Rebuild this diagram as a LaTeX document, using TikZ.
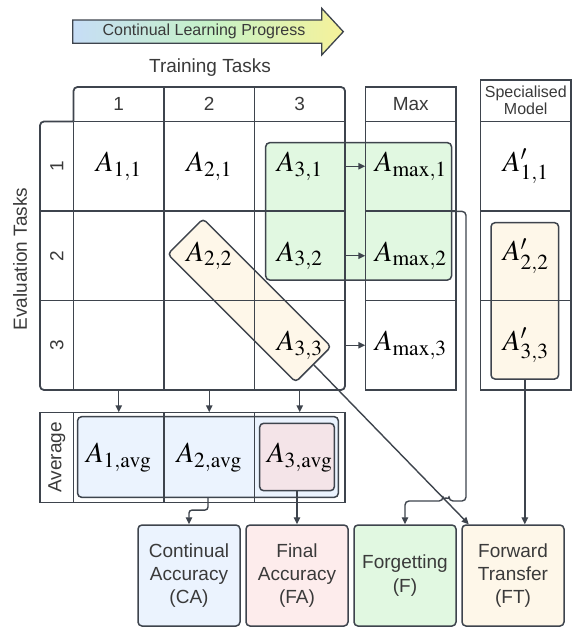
\documentclass[tikz,border=0pt]{standalone}
\usepackage{mathptmx}
\usepackage[no-math]{fontspec}
\setmainfont{Liberation Sans}
\usepackage{tikz}
\usetikzlibrary{arrows.meta}

\definecolor{linec}{HTML}{3E444D}
\definecolor{txtc}{HTML}{3A3A3A}
\definecolor{greenf}{HTML}{E1F8E1}
\definecolor{orangef}{HTML}{FEF7E9}
\definecolor{bluef}{HTML}{EBF3FE}
\definecolor{pinkf}{HTML}{FDECEC}
\definecolor{pinkd}{HTML}{F4E4E8}
\definecolor{progl}{HTML}{C6DDF6}
\definecolor{progm}{HTML}{C6F2C8}
\definecolor{progr}{HTML}{F6F29A}

\begin{document}
\begin{tikzpicture}[x=1pt, y=-1pt,
    >={Triangle[length=7pt,width=6.5pt]},
    grid/.style={draw=linec, line width=1.8pt},
    conn/.style={draw=linec, line width=1.4pt, ->},
    lbl/.style={text=txtc, font=\fontsize{19}{23}\selectfont},
    cell/.style={minimum width=90.5pt, minimum height=89.5pt, inner sep=0pt, font=\fontsize{29}{32}\selectfont},
    hbox/.style={draw=linec, line width=1.5pt, rounded corners=4pt, inner sep=0pt},
    metric/.style={hbox, minimum width=102pt, minimum height=101pt, align=center, text=txtc, font=\fontsize{19}{23.3}\selectfont}]
                    \useasboundingbox (0,0) rectangle (582,640);

                    % Progress arrow (shaded)
                    \path[draw=linec, line width=1.3pt, left color=progl, right color=progr, middle color=progm]
                        (72.7,20) -- (321.7,20) -- (321.7,8.3) -- (343.3,31.7)
                        -- (321.7,55) -- (321.7,43.3) -- (72.7,43.3) -- cycle;
                    \node[lbl, font=\fontsize{16}{18}\selectfont] (prog) at (204,31.7) {Continual Learning Progress};

                    % Highlight boxes (behind the grid)
                    \node[hbox, fill=greenf, minimum width=185.8pt, minimum height=137.3pt] (fgbox) at (358.6,211.35) {};
                    \node[hbox, fill=orangef, minimum width=181pt, minimum height=50pt, rotate=-45] (diag) at (249.4,300.4) {};
                    \node[hbox, fill=orangef, minimum width=67.6pt, minimum height=156.3pt] (sbox) at (524.8,300.85) {};
                    \node[hbox, fill=bluef, minimum width=260.7pt, minimum height=80.6pt] (cabox) at (207.95,457) {};
                    \node[hbox, fill=pinkd, minimum width=74.7pt, minimum height=67.4pt] (fabox) at (297,457) {};

                    % Training/evaluation table
                    \draw[grid, rounded corners=4pt] (73.5,121.5) -- (73.5,87) -- (345,87) -- (345,390)
                        -- (40,390) -- (40,121.5) -- (73.5,121.5);
                    \draw[grid] (73.5,121.5) -- (73.5,390);
                    \foreach \x in {164,254.5}
                        \draw[grid] (\x,87) -- (\x,390);
                    \draw[grid] (73.5,121.5) -- (345,121.5);
                    \foreach \y in {211,300.5}
                        \draw[grid] (40,\y) -- (345,\y);

                    % Max and specialised columns
                    \draw[grid] (365.5,87) rectangle (456,390);
                    \draw[grid] (480.5,80) rectangle (571,390);
                    \foreach \y in {121.5,211,300.5} {
                        \draw[grid] (365.5,\y) -- (456,\y);
                        \draw[grid] (480.5,\y) -- (571,\y);
                    }

                    % Average row
                    \draw[grid] (40,412.5) rectangle (345,502.5);
                    \foreach \x in {73.5,164,254.5}
                        \draw[grid] (\x,412.5) -- (\x,502.5);

                    % Labels
                    \node[lbl] (train) at (210,68) {Training Tasks};
                    \node[lbl, rotate=90] (evalt) at (20,259) {Evaluation Tasks};
                    \node[lbl, rotate=90] (avglbl) at (56.75,457.5) {Average};
                    \node[lbl] (hmax) at (410.75,104.25) {Max};
                    \node[lbl, font=\fontsize{16}{17}\selectfont, align=center] (hspec) at (525.75,100.75) {Specialised\\Model};
                    \foreach \c/\x in {1/118.75,2/209.25,3/299.75}
                        \node[lbl] (h\c) at (\x,104.25) {\c};
                    \foreach \r/\y in {1/166.25,2/255.75,3/345.25}
                        \node[lbl, rotate=90] (r\r) at (56.75,\y) {\r};

                    % Accuracy cells
                    \foreach \c/\x in {1/118.75,2/209.25,3/299.75} {
                        \foreach \r/\y in {1/166.25,2/255.75,3/345.25} {
                            \ifnum\c<\r
                                \node[cell] (a\c\r) at (\x,\y) {};
                            \else
                                \node[cell] (a\c\r) at (\x,\y) {$A_{\c,\r}$};
                            \fi
                        }
                        \node[cell, minimum height=90pt] (avg\c) at (\x,457.5) {$A_{\c,\mathrm{avg}}$};
                    }
                    \foreach \r/\y in {1/166.25,2/255.75,3/345.25} {
                        \node[cell] (m\r) at (410.75,\y) {$A_{\mathrm{max},\r}$};
                        \node[cell] (s\r) at (525.75,\y) {$A'_{\r,\r}$};
                    }

                    % Metric boxes
                    \node[metric, fill=bluef] (ca) at (189,575.5) {Continual\\Accuracy\\(CA)};
                    \node[metric, fill=pinkf] (fa) at (297,575.5) {Final\\Accuracy\\(FA)};
                    \node[metric, fill=greenf] (fgt) at (405,575.5) {Forgetting\\(F)};
                    \node[metric, fill=orangef] (ft) at (513,575.5) {Forward\\Transfer\\(FT)};

                    % Connectors
                    \foreach \r in {1,2,3}
                        \draw[conn] (a3\r.east) -- (m\r.west);
                    \foreach \c in {1,2,3}
                        \draw[conn] (a\c3.south) -- (avg\c.north);
                    \draw[conn, rounded corners=3pt] (cabox.south) -- ++(0,12) -| (ca.north);
                    \draw[conn] (fabox.south) -- (fa.north);
                    \coordinate (fturn) at (466,501);
                    \draw[conn, rounded corners=4pt] (fgbox.east) -| (fturn) -- (449,501)
                        arc[start angle=0, end angle=-180, radius=3] -| (fgt.north);
                    \draw[conn] (diag.east) -- ([xshift=7.5pt]ft.north west);
                    \draw[conn] (sbox.south) -- (sbox.south |- ft.north);
\end{tikzpicture}
\end{document}
